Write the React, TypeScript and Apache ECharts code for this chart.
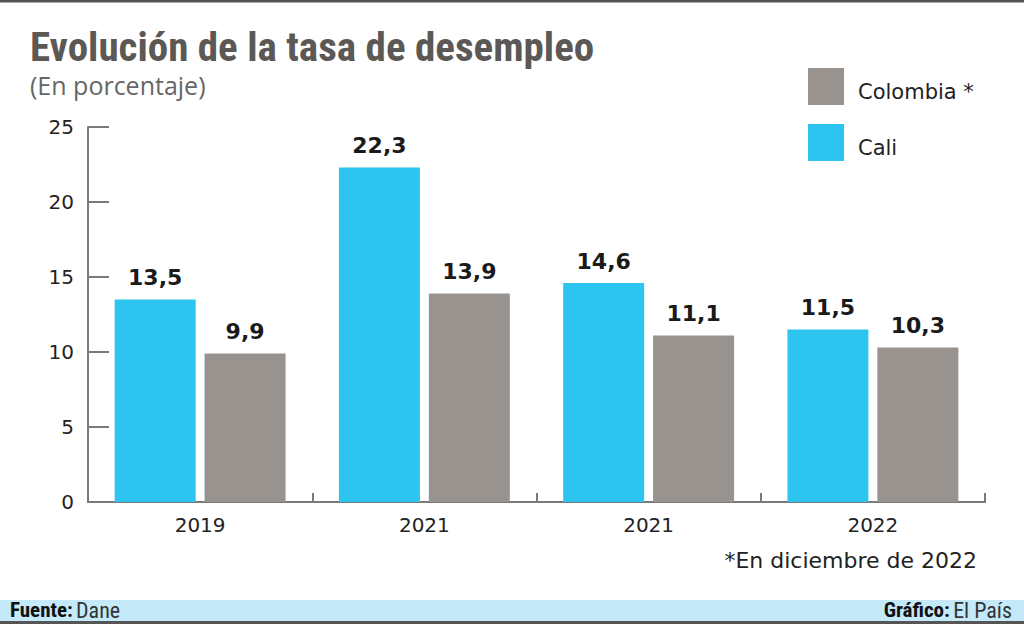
import React, { useEffect, useRef } from "react";
import * as echarts from "echarts";

const categories = ["2019", "2021", "2021", "2022"];
const caliValues = [13.5, 22.3, 14.6, 11.5];
const colombiaValues = [9.9, 13.9, 11.1, 10.3];
const yTicks = { min: 0, max: 25, interval: 5 };

const fmt = (v: number) => v.toFixed(1).replace(".", ",");

export default function App() {
  const ref = useRef<HTMLDivElement>(null);
  useEffect(() => {
    if (!ref.current) return;
    const chart = echarts.init(ref.current, undefined, { renderer: "svg" });
    const axisColor = "#7a7a7a";
    const labelFont = "DejaVu Sans, Verdana, sans-serif";
    const condensed = "'Liberation Sans Narrow', 'Roboto Condensed', 'Arial Narrow', Roboto, sans-serif";
    const barLabel = {
      show: true,
      position: "top",
      distance: 11,
      formatter: (p: any) => fmt(p.value),
      fontFamily: labelFont,
      fontSize: 22,
      fontWeight: "bold",
      color: "#1a1a1a",
    };
    chart.setOption({
      animation: false,
      backgroundColor: "#ffffff",
      grid: { left: 88, right: 39, top: 127, bottom: 123, containLabel: false },
      legend: {
        data: ["Colombia *", "Cali"],
        orient: "vertical",
        left: 803,
        top: 63,
        itemWidth: 36,
        itemHeight: 37,
        itemGap: 19,
        icon: "rect",
        selectedMode: false,
        formatter: "{t|{name}}",
        textStyle: {
          fontFamily: labelFont,
          fontSize: 21,
          color: "#222",
          rich: {
            t: { fontFamily: labelFont, fontSize: 21, color: "#222", padding: [10, 0, 0, 9] },
          },
        },
      },
      xAxis: {
        type: "category",
        data: categories,
        axisLine: { show: true, lineStyle: { color: axisColor, width: 2 } },
        axisTick: { show: true, inside: true, length: 9, interval: 0, lineStyle: { color: axisColor, width: 2 } },
        axisLabel: { fontFamily: labelFont, fontSize: 20, color: "#222", margin: 13 },
      },
      yAxis: {
        type: "value",
        min: yTicks.min,
        max: yTicks.max,
        interval: yTicks.interval,
        splitLine: { show: false },
        axisLine: { show: true, lineStyle: { color: axisColor, width: 2 } },
        axisTick: { show: true, inside: true, length: 21, lineStyle: { color: axisColor, width: 2 } },
        axisLabel: { fontFamily: labelFont, fontSize: 20, color: "#222", margin: 14 },
      },
      series: [
        {
          name: "Cali",
          type: "bar",
          data: caliValues,
          barWidth: 81,
          barGap: "11%",
          itemStyle: { color: "#2DC5EF" },
          label: barLabel,
        },
        {
          name: "Colombia *",
          type: "bar",
          data: colombiaValues,
          barWidth: 81,
          barGap: "11%",
          itemStyle: { color: "#98938F" },
          label: barLabel,
        },
      ],
      graphic: [
        { type: "rect", shape: { x: 0, y: 0, width: 1024, height: 2.5 }, style: { fill: "#555" } },
        {
          type: "text",
          left: 30,
          top: 26,
          style: {
            text: "Evolución de la tasa de desempleo",
            font: `bold 41px ${condensed}`,
            lineHeight: 42,
            fill: "#5b5855",
          },
        },
        {
          type: "text",
          left: 30,
          top: 72,
          style: {
            text: "(En porcentaje)",
            font: `25px 'Open Sans', 'Noto Sans', sans-serif`,
            lineHeight: 26,
            fill: "#666",
          },
        },
        {
          type: "text",
          right: 47,
          top: 549,
          style: {
            text: "*En diciembre de 2022",
            font: `22px ${labelFont}`,
            fill: "#222",
          },
        },
        { type: "rect", shape: { x: 0, y: 600, width: 1024, height: 21 }, style: { fill: "#C4E9F9" } },
        { type: "rect", shape: { x: 0, y: 621, width: 1024, height: 3 }, style: { fill: "#555" } },
        {
          type: "text",
          left: 10,
          top: 599,
          style: {
            rich: {
              b: { font: `bold 21px ${condensed}`, fill: "#111" },
              n: { font: `22px ${condensed}`, fill: "#333" },
            },
            text: "{b|Fuente:} {n|Dane}",
          },
        },
        {
          type: "text",
          right: 12,
          top: 599,
          style: {
            rich: {
              b: { font: `bold 21px ${condensed}`, fill: "#111" },
              n: { font: `22px ${condensed}`, fill: "#333" },
            },
            text: "{b|Gráfico:} {n|El País}",
          },
        },
      ],
    });
    return () => chart.dispose();
  }, []);
  return (
    <div
      ref={ref}
      style={{ position: "absolute", left: 0, top: 0, width: 1024, height: 625 }}
    />
  );
}
